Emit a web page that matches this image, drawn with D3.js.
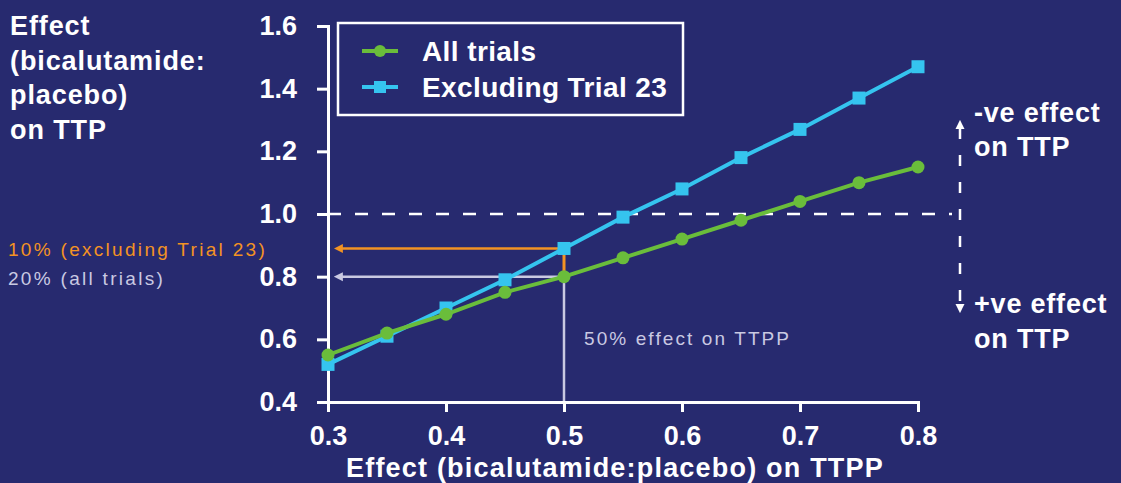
<!DOCTYPE html>
<html>
<head>
<meta charset="utf-8">
<script src="https://cdn.jsdelivr.net/npm/d3@7"></script>
<style>
  body { margin: 0; background: #272a6f; }
  svg { display: block; }
  text { font-family: "Liberation Sans", Arial, sans-serif; }
</style>
</head>
<body>
<svg width="1121" height="483"></svg>
<script>
// DATA
const ttppEffect = [0.3, 0.35, 0.4, 0.45, 0.5, 0.55, 0.6, 0.65, 0.7, 0.75, 0.8];
const allTrials = [0.55, 0.62, 0.68, 0.75, 0.80, 0.86, 0.92, 0.98, 1.04, 1.10, 1.15];
const exclTrial23 = [0.52, 0.61, 0.70, 0.79, 0.89, 0.99, 1.08, 1.18, 1.27, 1.37, 1.47];
const xTicks = [0.3, 0.4, 0.5, 0.6, 0.7, 0.8];
const yTicks = [0.4, 0.6, 0.8, 1.0, 1.2, 1.4, 1.6];
const seriesNames = ["All trials", "Excluding Trial 23"];
const yTitle = ["Effect", "(bicalutamide:", "placebo)", "on TTP"];

const svg = d3.select("svg");
const width = +svg.attr("width");
const height = +svg.attr("height");

const bg = "#272a6f";
const green = "#6abd3b";
const blue = "#35c4ef";
const orange = "#f39323";
const lav = "#c9c9e2";

svg.append("rect").attr("width", width).attr("height", height).attr("fill", bg);

// SCALES
const x = d3.scaleLinear().domain([0.3, 0.8]).range([328, 918]);
const y = d3.scaleLinear().domain([0.4, 1.6]).range([402, 26]);

// markers for arrows
const defs = svg.append("defs");
function arrowMarker(id, color) {
  defs.append("marker")
    .attr("id", id)
    .attr("viewBox", "0 0 10 10")
    .attr("refX", 1).attr("refY", 5)
    .attr("markerWidth", 9).attr("markerHeight", 10)
    .attr("markerUnits", "userSpaceOnUse")
    .attr("orient", "auto-start-reverse")
    .append("path")
    .attr("d", "M0,0 L10,5 L0,10 Z")
    .attr("fill", color);
}
arrowMarker("arrOrange", orange);
arrowMarker("arrLav", lav);
arrowMarker("arrWhite", "#fff");

// y = 1.0 reference line
svg.append("line")
  .attr("x1", x(0.3)).attr("x2", 952)
  .attr("y1", y(1.0)).attr("y2", y(1.0))
  .attr("stroke", "#fff").attr("stroke-width", 2.5)
  .attr("stroke-dasharray", "13,14");

// vertical dashed arrow on right
svg.append("line")
  .attr("x1", 960).attr("x2", 960)
  .attr("y1", 128).attr("y2", 305)
  .attr("stroke", "#fff").attr("stroke-width", 2.5)
  .attr("stroke-dasharray", "11,16")
  .attr("marker-start", "url(#arrWhite)")
  .attr("marker-end", "url(#arrWhite)");

// reading lines at 0.5
const i50 = ttppEffect.indexOf(0.5);
svg.append("line")
  .attr("x1", x(0.5)).attr("x2", x(0.5))
  .attr("y1", y(0.4)).attr("y2", y(allTrials[i50]))
  .attr("stroke", lav).attr("stroke-width", 2.5);
svg.append("line")
  .attr("x1", x(0.5)).attr("x2", x(0.5))
  .attr("y1", y(allTrials[i50])).attr("y2", y(exclTrial23[i50]))
  .attr("stroke", orange).attr("stroke-width", 3);
svg.append("line")
  .attr("x1", x(0.5)).attr("x2", 342)
  .attr("y1", y(exclTrial23[i50])).attr("y2", y(exclTrial23[i50]))
  .attr("stroke", orange).attr("stroke-width", 2.5)
  .attr("marker-end", "url(#arrOrange)");
svg.append("line")
  .attr("x1", x(0.5)).attr("x2", 342)
  .attr("y1", y(allTrials[i50])).attr("y2", y(allTrials[i50]))
  .attr("stroke", lav).attr("stroke-width", 2.5)
  .attr("marker-end", "url(#arrLav)");

// AXES
const yAxis = svg.append("g")
  .attr("transform", `translate(${x(0.3)},0)`)
  .call(d3.axisLeft(y).tickValues(yTicks).tickFormat(d3.format(".1f")).tickSize(11).tickPadding(20));
const xAxis = svg.append("g")
  .attr("transform", `translate(0,${y(0.4)})`)
  .call(d3.axisBottom(x).tickValues(xTicks).tickFormat(d3.format(".1f")).tickSize(10).tickPadding(10));
[yAxis, xAxis].forEach(g => {
  g.select(".domain").attr("stroke", "#fff").attr("stroke-width", 3);
  g.selectAll(".tick line").attr("stroke", "#fff").attr("stroke-width", 3);
  g.selectAll(".tick text")
    .attr("fill", "#fff")
    .attr("font-size", 27)
    .attr("font-weight", "bold")
    .attr("font-family", "'Liberation Sans', Arial, sans-serif");
});
xAxis.selectAll(".tick text").attr("dy", "0.85em");

// SERIES
const line = d3.line().x(d => x(d[0])).y(d => y(d[1]));
const blueData = d3.zip(ttppEffect, exclTrial23);
const greenData = d3.zip(ttppEffect, allTrials);

svg.append("path").datum(blueData)
  .attr("d", line).attr("fill", "none")
  .attr("stroke", blue).attr("stroke-width", 4);
svg.selectAll(".sq").data(blueData).enter().append("rect")
  .attr("x", d => x(d[0]) - 6.5).attr("y", d => y(d[1]) - 6.5)
  .attr("width", 13).attr("height", 13).attr("fill", blue);

svg.append("path").datum(greenData)
  .attr("d", line).attr("fill", "none")
  .attr("stroke", green).attr("stroke-width", 4);
svg.selectAll(".dot").data(greenData).enter().append("circle")
  .attr("cx", d => x(d[0])).attr("cy", d => y(d[1]))
  .attr("r", 6.5).attr("fill", green);

// LEGEND
const legend = svg.append("g");
legend.append("rect")
  .attr("x", 338).attr("y", 23).attr("width", 345).attr("height", 92)
  .attr("fill", "none").attr("stroke", "#fff").attr("stroke-width", 2.5);
seriesNames.forEach((name, i) => {
  const ly = 51 + i * 36;
  const col = i === 0 ? green : blue;
  legend.append("line").attr("x1", 362).attr("x2", 398).attr("y1", ly).attr("y2", ly)
    .attr("stroke", col).attr("stroke-width", 4);
  if (i === 0) {
    legend.append("circle").attr("cx", 380).attr("cy", ly).attr("r", 6).attr("fill", col);
  } else {
    legend.append("rect").attr("x", 374).attr("y", ly - 6).attr("width", 12).attr("height", 12).attr("fill", col);
  }
  legend.append("text").attr("x", 422).attr("y", ly + 10)
    .attr("fill", "#fff").attr("font-size", 28).attr("font-weight", "bold")
    .attr("letter-spacing", 0.4)
    .text(name);
});

// TEXT
const title = svg.append("text").attr("fill", "#fff").attr("font-size", 27)
  .attr("font-weight", "bold").attr("letter-spacing", 0.9);
yTitle.forEach((t, i) => {
  title.append("tspan").attr("x", 10).attr("y", 35 + i * 34.7).text(t);
});

svg.append("text")
  .attr("x", 615).attr("y", 477)
  .attr("text-anchor", "middle")
  .attr("fill", "#fff").attr("font-size", 27).attr("font-weight", "bold")
  .attr("letter-spacing", 1.2)
  .text("Effect (bicalutamide:placebo) on TTPP");

svg.append("text").attr("x", 8).attr("y", y(exclTrial23[i50]) + 8)
  .attr("fill", orange).attr("font-size", 19).attr("letter-spacing", 2.3)
  .text("10% (excluding Trial 23)");
svg.append("text").attr("x", 8).attr("y", y(allTrials[i50]) + 8)
  .attr("fill", lav).attr("font-size", 19).attr("letter-spacing", 2.3)
  .text("20% (all trials)");
svg.append("text").attr("x", 584).attr("y", 345)
  .attr("fill", lav).attr("font-size", 19).attr("letter-spacing", 2.1)
  .text("50% effect on TTPP");

const rightNotes = [["-ve effect", 122], ["on TTP", 156], ["+ve effect", 313], ["on TTP", 348]];
rightNotes.forEach(([t, yy]) => {
  svg.append("text").attr("x", 974).attr("y", yy)
    .attr("fill", "#fff").attr("font-size", 27).attr("font-weight", "bold")
    .attr("letter-spacing", 0.8)
    .text(t);
});
</script>
</body>
</html>
